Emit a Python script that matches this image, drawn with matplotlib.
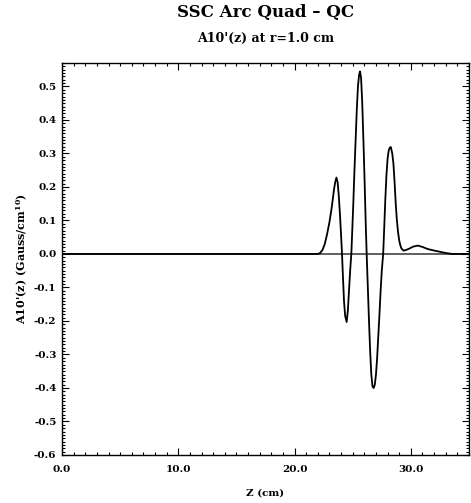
import matplotlib
matplotlib.use("Agg")
import matplotlib.pyplot as plt
from matplotlib.ticker import MultipleLocator, FormatStrFormatter

# Data (z in cm, A10'(z) in Gauss/cm^10)
z_cm = [0.0, 20.0, 22.0, 22.2, 22.4, 22.6, 22.8, 23.0, 23.2, 23.4, 23.5, 23.6, 23.7, 23.8, 23.9, 24.0, 24.08,
        24.15, 24.25, 24.35, 24.48, 24.58, 24.68, 24.78, 24.88,
        24.95, 25.05, 25.15, 25.25, 25.35, 25.45, 25.55, 25.63, 25.72, 25.82, 25.92, 26.02, 26.12, 26.2,
        26.3, 26.4, 26.5, 26.6, 26.7, 26.8, 26.9, 27.0, 27.1, 27.2, 27.3, 27.4, 27.5, 27.62,
        27.7, 27.8, 27.9, 28.0, 28.1, 28.2, 28.28, 28.4, 28.5, 28.6, 28.7, 28.8, 28.9, 29.0, 29.1, 29.2,
        29.37, 29.6, 29.86, 30.2, 30.6, 31.0, 31.43, 31.9, 32.3, 32.7, 33.15, 33.6, 35.0]
a10p = [0.0, 0.0, 0.0, 0.003, 0.012, 0.03, 0.06, 0.095, 0.14, 0.195, 0.215, 0.228, 0.215, 0.175, 0.12, 0.055, 0.0,
        -0.06, -0.14, -0.185, -0.203, -0.17, -0.11, -0.05, 0.0,
        0.06, 0.15, 0.25, 0.34, 0.43, 0.50, 0.535, 0.545, 0.525, 0.45, 0.34, 0.22, 0.09, 0.0,
        -0.10, -0.20, -0.29, -0.36, -0.395, -0.40, -0.39, -0.36, -0.31, -0.245, -0.18, -0.11, -0.05, 0.0,
        0.07, 0.16, 0.235, 0.285, 0.31, 0.318, 0.319, 0.30, 0.27, 0.215, 0.15, 0.10, 0.065, 0.04, 0.025, 0.016,
        0.010, 0.012, 0.016, 0.022, 0.025, 0.021, 0.015, 0.011, 0.008, 0.005, 0.002, 0.0, 0.0]

x_ticks = [0.0, 10.0, 20.0, 30.0]
title = "SSC Arc Quad \u2013 QC"
subtitle = "A10'(z) at r=1.0 cm"
xlabel = "Z (cm)"
ylabel = "A10'(z) (Gauss/cm$^{\\mathbf{10}}$)"

plt.rcParams['font.family'] = ['DejaVu Serif', 'DejaVu Sans']
plt.rcParams['font.weight'] = 'bold'
plt.rcParams['mathtext.fontset'] = 'dejavuserif'
plt.rcParams['axes.unicode_minus'] = False

fig = plt.figure(figsize=(4.71, 5.03), dpi=100)
ax = fig.add_axes([62/471, 1 - 455/503, (469-62)/471, (455-63)/503])

ax.axhline(0.0, color='#444444', lw=1.2, zorder=1)
ax.plot(z_cm, a10p, color='black', lw=1.3, zorder=2)

ax.set_xlim(0, 35)
ax.set_ylim(-0.6, 0.57)
ax.set_xticks(x_ticks)
ax.xaxis.set_minor_locator(MultipleLocator(1.0))
ax.yaxis.set_major_locator(MultipleLocator(0.1))
ax.yaxis.set_minor_locator(MultipleLocator(0.01))
ax.xaxis.set_major_formatter(FormatStrFormatter('%.1f'))
ax.yaxis.set_major_formatter(FormatStrFormatter('%.1f'))
ax.tick_params(which='both', direction='in', top=True, right=True, labelsize=7.5, width=0.8)
ax.tick_params(which='major', length=5)
ax.tick_params(axis='y', which='major', pad=4)
ax.tick_params(axis='x', which='major', pad=7)
ax.tick_params(which='minor', length=2.5)
for lab in ax.get_xticklabels() + ax.get_yticklabels():
    lab.set_fontweight('bold')
for s in ax.spines.values():
    s.set_linewidth(1.0)

ax.set_xlabel(xlabel, fontsize=7.5, fontweight='bold', labelpad=11)
ax.set_ylabel(ylabel, fontsize=8, fontweight='bold', labelpad=3)

fig.text(266/471, 1 - 13/503, title, ha='center', va='center', fontsize=12, fontweight='bold')
fig.text(266/471, 1 - 38/503, subtitle, ha='center', va='center', fontsize=9, fontweight='bold')

fig.savefig("out.png", dpi=100)
